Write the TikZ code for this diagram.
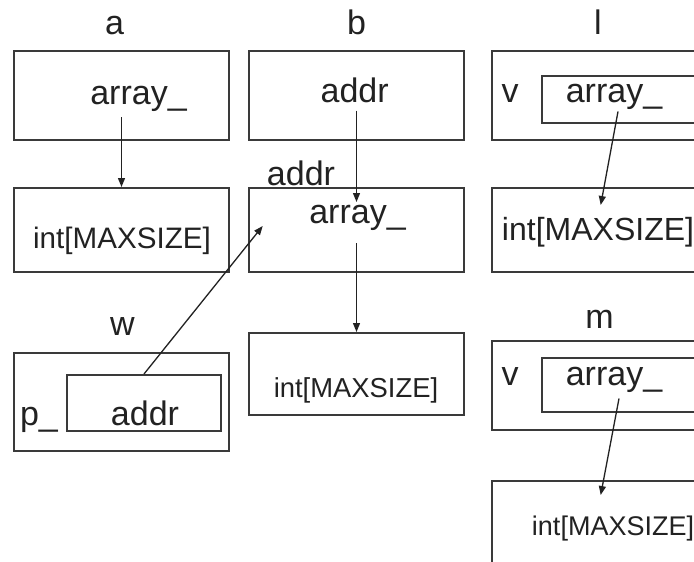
\documentclass[tikz,border=0pt]{standalone}
\usepackage{fontspec}
\setmainfont{Liberation Sans}
\usepackage{xcolor}
\usepackage{tikz}
\usetikzlibrary{arrows.meta, positioning}
\definecolor{linegray}{HTML}{3A3A3A}
\definecolor{txtgray}{HTML}{222222}
\tikzset{
  cell/.style={draw=linegray, line width=1pt, inner sep=0pt},
  lbl/.style={anchor=base, inner sep=0pt, text=txtgray, font=\fontsize{#1}{#1}\selectfont},
  lbl/.default=17,
  ptr/.style={draw=txtgray, line width=0.65pt, -{Triangle[length=4.5pt,width=3.5pt]}}
}
\begin{document}
\begin{tikzpicture}[x=0.5pt, y=-0.5pt]
\clip (0,0) rectangle (694,561);
\fill[white] (0,0) rectangle (694,561);
% a
\node[lbl] (alab) at (114.5,35) {a};
\node[cell, minimum width=107.5pt, minimum height=44.5pt] (a1) at (121.5,95.5) {};
\node[lbl] (a1t) at (138.5,105) {array\_};
\node[cell, minimum width=107.5pt, minimum height=42pt] (a2) at (121.5,230) {};
\node[lbl=14.8] (a2t) at (122,248) {int[MAXSIZE]};
\draw[ptr] ([yshift=-2.5pt]a1t.south -| a2.north) -- (a2.north);
% b
\node[lbl] (blab) at (356.5,35) {b};
\node[cell, minimum width=107.5pt, minimum height=44.5pt] (b1) at (356.5,95.5) {};
\node[lbl] (b1t) at (354.7,103) {addr};
\node[cell, minimum width=107.5pt, minimum height=42pt] (b2) at (356.5,230) {};
\node[lbl] (b2a) at (301,185) {addr};
\node[lbl] (b2t) at (357.5,223) {array\_};
\node[cell, minimum width=107.5pt, minimum height=41pt] (b3) at (356.5,374) {};
\node[lbl=13.7] (b3t) at (356,397) {int[MAXSIZE]};
\coordinate (bhead) at (356.5,202);
\draw[ptr] ([yshift=-3.5pt]b1t.south -| bhead) -- (bhead);
\draw[ptr] ([yshift=-6.5pt]b2t.south -| b3.north) -- (b3.north);
% w
\node[lbl] (wlab) at (122.5,335) {w};
\node[cell, minimum width=107.5pt, minimum height=49pt] (w) at (121.5,402) {};
\node[cell, minimum width=77pt, minimum height=28pt] (wp) at (144,403) {};
\node[lbl] (wpt) at (39,425) {p\_};
\node[lbl] (wt) at (145,425) {addr};
\coordinate (wtip) at (262.7,226);
\draw[ptr] (wp.north) -- (wtip);
% l
\node[lbl] (llab) at (598,35) {l};
\node[cell, minimum width=110pt, minimum height=44.5pt] (l) at (602,95.5) {};
\node[cell, minimum width=85pt, minimum height=23.5pt] (lv) at (627,99.5) {};
\node[lbl] (lvt) at (510,103) {v};
\node[lbl] (lt) at (614,103) {array\_};
\node[cell, minimum width=110pt, minimum height=42pt] (l2) at (602,230) {};
\node[lbl=16] (l2t) at (598,240) {int[MAXSIZE]};
\coordinate (ltip) at (600.7,205);
\draw[ptr] ([xshift=2pt,yshift=-0.5pt]lt.south) -- (ltip);
% m
\node[lbl] (mlab) at (599.5,328) {m};
\node[cell, minimum width=110pt, minimum height=44.5pt] (m) at (602,385.5) {};
\node[cell, minimum width=85pt, minimum height=27pt] (mv) at (627,385) {};
\node[lbl] (mvt) at (510,385) {v};
\node[lbl] (mt) at (614,385) {array\_};
\node[cell, minimum width=110pt, minimum height=59.5pt] (m2) at (602,540.5) {};
\node[lbl=13.5] (m2t) at (613,535) {int[MAXSIZE]};
\coordinate (mtip) at (600.7,495);
\draw[ptr] ([xshift=2.5pt,yshift=-3pt]mt.south) -- (mtip);
\end{tikzpicture}
\end{document}
